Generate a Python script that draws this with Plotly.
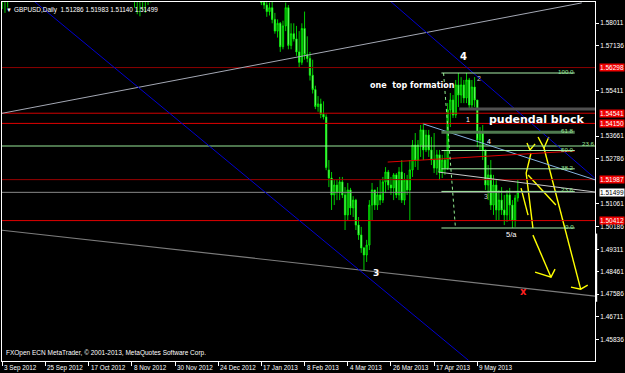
import plotly.graph_objects as go

# ---------------- data ----------------
bar_idx = [0, 1, 2, 49, 50, 51, 52, 53, 54, 55,
           96, 97, 98, 99, 100, 101, 102, 103, 104, 105, 106, 107, 108, 109, 110,
           111, 112, 113, 114, 115, 116, 117, 118, 119, 120, 121, 122, 123, 124, 125,
           126, 127, 128, 129, 130, 131, 132, 133, 134, 135, 136, 137, 138, 139, 140,
           141, 142, 143, 144, 145, 146, 147, 148, 149, 150, 151, 152, 153, 154, 155,
           156, 157, 158, 159, 160, 161, 162, 163, 164, 165, 166, 167, 168, 169, 170,
           171, 172, 173, 174, 175, 176, 177, 178, 179, 180, 181, 182, 183, 184, 185,
           186, 187, 188, 189, 190, 191]
opens = [1.5920, 1.5930, 1.5905, 1.5930, 1.5925, 1.5900, 1.5915, 1.5905, 1.5925, 1.5930,
         1.5930, 1.5880, 1.5870, 1.5845, 1.5860, 1.5815, 1.5770, 1.5800, 1.5710, 1.5790, 1.5860, 1.5715, 1.5760, 1.5740, 1.5690,
         1.5650, 1.5780, 1.5680, 1.5665, 1.5600, 1.5545, 1.5480, 1.5490, 1.5450, 1.5440, 1.5236, 1.5205, 1.5140, 1.5178, 1.5151,
         1.5190, 1.5140, 1.5063, 1.5159, 1.5090, 1.5120, 1.5024, 1.4986, 1.4936, 1.4909, 1.4947, 1.5101, 1.5159, 1.5101, 1.5140,
         1.5120, 1.5190, 1.5228, 1.5178, 1.5167, 1.5217, 1.5140, 1.5228, 1.5120, 1.5197, 1.5159, 1.5236, 1.5332, 1.5274, 1.5332,
         1.5390, 1.5313, 1.5370, 1.5313, 1.5274, 1.5243, 1.5294, 1.5228, 1.5274, 1.5243, 1.5467, 1.5505, 1.5447, 1.5563, 1.5524,
         1.5563, 1.5513, 1.5582, 1.5486, 1.5555, 1.5505, 1.5351, 1.5382, 1.5313, 1.5178, 1.5217, 1.5101, 1.5178, 1.5082, 1.5120,
         1.5082, 1.5063, 1.5140, 1.5101, 1.5043, 1.51286]
highs = [1.5960, 1.5950, 1.5930, 1.5960, 1.5950, 1.5940, 1.5945, 1.5935, 1.5950, 1.5955,
         1.5960, 1.5920, 1.5905, 1.5880, 1.5885, 1.5840, 1.5815, 1.5805, 1.5810, 1.5880, 1.5870, 1.5800, 1.5800, 1.5790, 1.5770,
         1.5800, 1.5845, 1.5750, 1.5690, 1.5660, 1.5560, 1.5520, 1.5510, 1.5500, 1.5450, 1.5274, 1.5228, 1.5197, 1.5197, 1.5209,
         1.5209, 1.5170, 1.5186, 1.5167, 1.5135, 1.5125, 1.5055, 1.5017, 1.4940, 1.4967, 1.5120, 1.5186, 1.5159, 1.5170, 1.5197,
         1.5209, 1.5247, 1.5236, 1.5209, 1.5224, 1.5224, 1.5247, 1.5274, 1.5224, 1.5217, 1.5274, 1.5351, 1.5378, 1.5351, 1.5409,
         1.5417, 1.5390, 1.5390, 1.5363, 1.5378, 1.5313, 1.5313, 1.5294, 1.5313, 1.5493, 1.5532, 1.5524, 1.5582, 1.5609, 1.5593,
         1.5582, 1.5609, 1.5590, 1.5582, 1.5593, 1.5505, 1.5401, 1.5409, 1.5313, 1.5255, 1.5274, 1.5217, 1.5197, 1.5159, 1.5170,
         1.5140, 1.5159, 1.5167, 1.5120, 1.5140, 1.51983]
lows = [1.5855, 1.5840, 1.5860, 1.5860, 1.5835, 1.5827, 1.5850, 1.5840, 1.5870, 1.5880,
        1.5870, 1.5855, 1.5825, 1.5830, 1.5800, 1.5760, 1.5745, 1.5690, 1.5700, 1.5770, 1.5700, 1.5700, 1.5730, 1.5675, 1.5630,
        1.5640, 1.5660, 1.5650, 1.5580, 1.5530, 1.5470, 1.5460, 1.5435, 1.5430, 1.5235, 1.5170, 1.5082, 1.5101, 1.5120, 1.5120,
        1.5128, 1.5005, 1.5043, 1.5063, 1.5055, 1.5005, 1.4967, 1.4917, 1.4851, 1.4882, 1.4928, 1.5043, 1.5082, 1.5082, 1.5101,
        1.5109, 1.5147, 1.5159, 1.5140, 1.5120, 1.5128, 1.5120, 1.5109, 1.5101, 1.5140, 1.5043, 1.5209, 1.5247, 1.5236, 1.5286,
        1.5274, 1.5305, 1.5286, 1.5255, 1.5224, 1.5217, 1.5197, 1.5205, 1.5217, 1.5236, 1.5401, 1.5436, 1.5436, 1.5478, 1.5493,
        1.5493, 1.5493, 1.5467, 1.5474, 1.5478, 1.5324, 1.5313, 1.5274, 1.5159, 1.5120, 1.5082, 1.5063, 1.5043, 1.5043, 1.5063,
        1.5024, 1.5036, 1.5043, 1.5013, 1.5017, 1.51140]
closes = [1.5930, 1.5905, 1.5920, 1.5925, 1.5900, 1.5915, 1.5905, 1.5925, 1.5930, 1.5935,
          1.5880, 1.5870, 1.5845, 1.5860, 1.5815, 1.5770, 1.5800, 1.5710, 1.5790, 1.5860, 1.5715, 1.5760, 1.5740, 1.5690, 1.5650,
          1.5780, 1.5680, 1.5665, 1.5600, 1.5545, 1.5480, 1.5490, 1.5450, 1.5440, 1.5245, 1.5205, 1.5140, 1.5178, 1.5151, 1.5190,
          1.5140, 1.5063, 1.5159, 1.5090, 1.5120, 1.5024, 1.4986, 1.4936, 1.4909, 1.4947, 1.5101, 1.5159, 1.5101, 1.5140, 1.5120,
          1.5190, 1.5228, 1.5178, 1.5167, 1.5217, 1.5140, 1.5228, 1.5120, 1.5197, 1.5159, 1.5236, 1.5332, 1.5274, 1.5332, 1.5390,
          1.5313, 1.5370, 1.5313, 1.5274, 1.5243, 1.5294, 1.5228, 1.5274, 1.5243, 1.5467, 1.5505, 1.5447, 1.5563, 1.5524, 1.5563,
          1.5513, 1.5582, 1.5486, 1.5555, 1.5505, 1.5351, 1.5382, 1.5313, 1.5178, 1.5217, 1.5101, 1.5178, 1.5082, 1.5120, 1.5082,
          1.5063, 1.5140, 1.5101, 1.5043, 1.5128, 1.51499]

date_ticks = [0, 16, 32, 48, 64, 80, 96, 112, 128, 144, 160, 176]
date_labels = ["3 Sep 2012", "25 Sep 2012", "17 Oct 2012", "8 Nov 2012", "30 Nov 2012",
               "24 Dec 2012", "17 Jan 2013", "8 Feb 2013", "4 Mar 2013", "26 Mar 2013",
               "17 Apr 2013", "9 May 2013"]
price_ticks = [1.58011, 1.57136, 1.55411, 1.53661, 1.52786, 1.51061, 1.50186,
               1.49311, 1.48461, 1.47586, 1.46711, 1.45836, 1.44986]

level_prices = [1.56298, 1.54541, 1.54150, 1.51987, 1.50412]
level_colors = ["#8b0000", "#d00000", "#e00000", "#9a0000", "#e00000"]
green_level = 1.53281
bid_price = 1.51499

fib_low, fib_high = 1.50127, 1.56088
fib_levels = [0.0, 23.6, 38.2, 50.0, 61.8, 100.0]
fib_x0, fib_x1 = 162.7, 212.1

# trend lines: (x0, y0, x1, y1, color, width, dash)
trend_lines = [
    (-0.5, 1.54530, 214.7, 1.58785, "#a4a8b4", 1, "solid"),
    (-0.5, 1.50045, 219.9, 1.47504, "#7c7c7c", 1.2, "solid"),
    (11.2, 1.58900, 172.7, 1.45040, "#0000d0", 1, "solid"),
    (143.2, 1.58900, 219.5, 1.52047, "#0000d0", 1, "solid"),
    (156.1, 1.54126, 219.9, 1.51970, "#87b4e0", 1, "solid"),
    (161.6, 1.52278, 219.9, 1.51508, "#c8c8c8", 1, "solid"),
    (142.8, 1.52663, 212.1, 1.53087, "#e00000", 1, "solid"),
    (163.5, 1.56088, 167.9, 1.50127, "#90ee90", 1, "dot"),
    (169.3, 1.54704, 219.9, 1.54704, "#505050", 3, "solid"),
]

# hand-drawn yellow arrows (bar index, price)
yellow_paths = [
    [(194.4, 1.53395), (195.5, 1.53125), (197.4, 1.53356)],
    [(198.5, 1.53626), (200.7, 1.53202), (202.5, 1.53626)],
    [(200.7, 1.53202), (214.3, 1.47774)],
    [(210.7, 1.47851), (214.3, 1.47774), (216.9, 1.47928)],
    [(195.9, 1.53010), (194.1, 1.52240), (196.6, 1.50122)],
    [(194.8, 1.52163), (205.1, 1.51008)],
    [(192.2, 1.51662), (194.8, 1.50623)],
    [(196.6, 1.49853), (203.3, 1.48236)],
    [(197.4, 1.48428), (203.3, 1.48236), (204.8, 1.48544)],
]

# chart notes: (text, bar index, price, size, bold, color)
notes = [
    ("4", 170.9, 1.56742, 10, True, "white"),
    ("one  top formation", 152.1, 1.55627, 8, True, "white"),
    ("2", 176.8, 1.55896, 7, False, "#c8c8c8"),
    ("1", 172.4, 1.54281, 7, False, "white"),
    ("pudendal block", 197.8, 1.54300, 11, True, "white"),
    ("4", 180.5, 1.53435, 7, False, "white"),
    ("3", 179.4, 1.51358, 7, False, "#c8c8c8"),
    ("5/a", 188.6, 1.49896, 7.5, False, "white"),
    ("3", 138.5, 1.48396, 9, True, "white"),
    ("x", 193.1, 1.47704, 10, True, "#ff2020"),
]

FONT = "Liberation Sans, Arial, sans-serif"
BOLD = "DejaVu Sans, sans-serif"

fig = go.Figure()
fig.add_trace(go.Candlestick(
    x=bar_idx, open=opens, high=highs, low=lows, close=closes,
    increasing=dict(line=dict(color="#00ff00", width=0.8), fillcolor="#007a00"),
    decreasing=dict(line=dict(color="#00ff00", width=0.8), fillcolor="#a8f5a8"),
    whiskerwidth=0, showlegend=False, hoverinfo="skip"))

shapes = []
for p, c in zip(level_prices, level_colors):
    shapes.append(dict(type="line", xref="paper", x0=0, x1=1, yref="y", y0=p, y1=p,
                       line=dict(color=c, width=1)))
shapes.append(dict(type="line", xref="paper", x0=0, x1=1, yref="y", y0=green_level, y1=green_level,
                   line=dict(color="#98e898", width=1)))
shapes.append(dict(type="line", xref="paper", x0=0, x1=1, yref="y", y0=bid_price, y1=bid_price,
                   line=dict(color="#8a8a8a", width=1)))
for x0, y0, x1, y1, c, w, d in trend_lines:
    shapes.append(dict(type="line", xref="x", yref="y", x0=x0, y0=y0, x1=x1, y1=y1,
                       line=dict(color=c, width=w, dash=d)))
fib_notes = []
for lv in fib_levels:
    p = fib_low + (fib_high - fib_low) * lv / 100.0
    w = 3 if lv == 61.8 else 1
    col = "#4f7a4f" if lv == 61.8 else "#a8eea8"
    shapes.append(dict(type="line", xref="x", yref="y", x0=fib_x0, x1=fib_x1, y0=p, y1=p,
                       line=dict(color=col, width=w)))
    fib_notes.append(dict(x=fib_x1, y=p, xref="x", yref="y", text="%.1f" % lv, showarrow=False,
                          xanchor="right", yanchor="bottom", yshift=-3, borderpad=0,
                          font=dict(family=FONT, size=6.2, color="#98e898")))
shapes.append(dict(type="line", xref="paper", yref="paper", x0=1.002, x1=1.002, y0=0.165, y1=0.355,
                   line=dict(color="white", width=2)))

fig.update_layout(shapes=shapes)

for path in yellow_paths:
    fig.add_trace(go.Scatter(x=[pt[0] for pt in path], y=[pt[1] for pt in path], mode="lines",
                             line=dict(color="#ffff00", width=1.4), showlegend=False,
                             hoverinfo="skip"))

ann = list(fib_notes)
ann.append(dict(x=214.4, y=1.53396, xref="x", yref="y", text="23.6", showarrow=False,
                xanchor="left", borderpad=0, font=dict(family=FONT, size=6.2, color="#98e898")))
for t, x, y, s, b, c in notes:
    ann.append(dict(x=x, y=y, xref="x", yref="y", text=t, showarrow=False, borderpad=0,
                    font=dict(family=BOLD if b else FONT, size=s, color=c,
                              weight="bold" if b else "normal")))
for tv, tl in zip(date_ticks, date_labels):
    ann.append(dict(x=tv, y=0, xref="x", yref="paper", text=tl, showarrow=False,
                    xanchor="left", yanchor="top", xshift=0, yshift=-1,
                    font=dict(family=FONT, size=6.3, color="white")))
for p in level_prices:
    ann.append(dict(x=1, y=p, xref="paper", yref="y", text="%.5f" % p, showarrow=False,
                    xanchor="left", xshift=4, bgcolor="#ee0000", borderpad=0,
                    font=dict(family=FONT, size=6.5, color="white")))
ann.append(dict(x=1, y=bid_price, xref="paper", yref="y", text="%.5f" % bid_price, showarrow=False,
                xanchor="left", xshift=4, bgcolor="white", borderpad=0,
                font=dict(family=FONT, size=6.5, color="black")))
ann.append(dict(x=0.004, y=1, xref="paper", yref="paper", yshift=-3, text="▼",
                showarrow=False, xanchor="left", yanchor="top",
                font=dict(family=FONT, size=6, color="white")))
ann.append(dict(x=0.017, y=1, xref="paper", yref="paper", yshift=-2,
                text="GBPUSD,Daily  %.5f %.5f %.5f %.5f" % (opens[-1], highs[-1], lows[-1], closes[-1]),
                showarrow=False, xanchor="left", yanchor="top",
                font=dict(family=FONT, size=6.4, color="white")))
ann.append(dict(x=0.003, y=0, xref="paper", yref="paper", yshift=2,
                text="FXOpen ECN MetaTrader, © 2001-2013, MetaQuotes Software Corp.",
                showarrow=False, xanchor="left", yanchor="bottom",
                font=dict(family=FONT, size=6.5, color="white")))

fig.update_layout(
    annotations=ann,
    width=625, height=373,
    margin=dict(l=1, r=28, t=2, b=12, pad=0),
    paper_bgcolor="black", plot_bgcolor="black",
    showlegend=False,
    xaxis=dict(range=[-0.1, 219.6], tickvals=date_ticks, showticklabels=False,
               ticks="outside", ticklen=4, tickcolor="white", tickwidth=1,
               showgrid=False, zeroline=False, showline=True, linecolor="white",
               linewidth=1, mirror=True, rangeslider=dict(visible=False), fixedrange=True),
    yaxis=dict(range=[1.45012, 1.58819], side="right", tickvals=price_ticks,
               ticktext=["%.5f" % v for v in price_ticks],
               ticks="outside", ticklen=3, tickcolor="white",
               tickfont=dict(family=FONT, size=6.5, color="white"),
               showgrid=False, zeroline=False, showline=True, linecolor="white",
               linewidth=1, mirror=True, fixedrange=True),
)

fig.write_html("out.html")
